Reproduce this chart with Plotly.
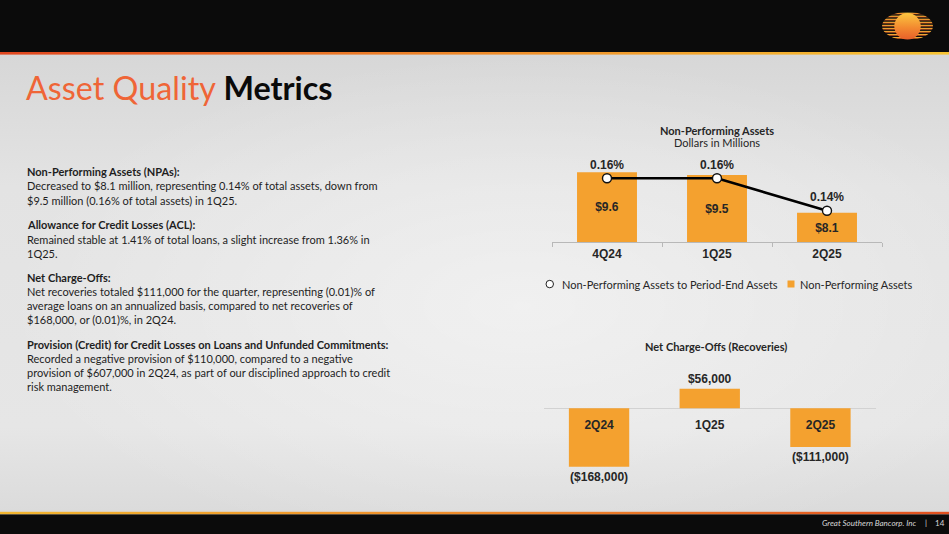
import base64
import plotly.graph_objects as go

W, H = 949, 534

# ---------------- data ----------------
npa_quarters = ["4Q24", "1Q25", "2Q25"]
npa_millions = [9.6, 9.5, 8.1]
npa_ratio_pct = [0.16, 0.16, 0.14]

nco_quarters = ["2Q24", "1Q25", "2Q25"]
nco_dollars = [-168000, 56000, -111000]

body_lines = [
    ("Non-Performing Assets (NPAs):", True, 171.7),
    ("Decreased to $8.1 million, representing 0.14% of total assets, down from", False, 186.0),
    ("$9.5 million (0.16% of total assets) in 1Q25.", False, 200.0),
    ("Allowance for Credit Losses (ACL):", True, 224.3),
    ("Remained stable at 1.41% of total loans, a slight increase from 1.36% in", False, 239.0),
    ("1Q25.", False, 253.3),
    ("Net Charge-Offs:", True, 277.7),
    ("Net recoveries totaled $111,000 for the quarter, representing (0.01)% of", False, 291.7),
    ("average loans on an annualized basis, compared to net recoveries of", False, 305.3),
    ("$168,000, or (0.01)%, in 2Q24.", False, 319.3),
    ("Provision (Credit) for Credit Losses on Loans and Unfunded Commitments:", True, 344.0),
    ("Recorded a negative provision of $110,000, compared to a negative", False, 358.3),
    ("provision of $607,000 in 2Q24, as part of our disciplined approach to credit", False, 372.3),
    ("risk management.", False, 386.7),
]

# value axis of the NPA chart starts above zero (as in the original slide)
NPA_AXIS = [7, 11]

# ---------------- helpers ----------------
def px(x):
    return x / W

def py(y):
    return 1 - y / H

BAR = "#F4A12F"
TXT = "#262626"
LAB_FONT = dict(family="Liberation Sans, Arial, sans-serif", size=12, color=TXT, weight="bold")
UI = "Lato, Open Sans, sans-serif"
UI_SIZE = 11

# ---------------- background (decoration) ----------------
svg = f"""<svg xmlns='http://www.w3.org/2000/svg' width='{W}' height='{H}' viewBox='0 0 {W} {H}'>
<defs>
<linearGradient id='bg' x1='0' y1='0' x2='0' y2='1'>
<stop offset='0' stop-color='#D2D2D2'/><stop offset='0.35' stop-color='#E3E3E3'/>
<stop offset='0.8' stop-color='#E6E6E6'/><stop offset='1' stop-color='#D8D8D8'/></linearGradient>
<radialGradient id='hl' cx='0.55' cy='0.55' r='0.55'>
<stop offset='0' stop-color='#FFFFFF' stop-opacity='0.45'/><stop offset='1' stop-color='#FFFFFF' stop-opacity='0'/></radialGradient>
<linearGradient id='hd' x1='0' y1='0' x2='1' y2='0'>
<stop offset='0' stop-color='#E0461F'/><stop offset='0.5' stop-color='#EE8A2A'/><stop offset='1' stop-color='#F7C433'/></linearGradient>
<linearGradient id='ft' x1='0' y1='0' x2='1' y2='0'>
<stop offset='0' stop-color='#F3B731'/><stop offset='0.5' stop-color='#EE8A2A'/><stop offset='1' stop-color='#E2501F'/></linearGradient>
<linearGradient id='st' x1='0' y1='0' x2='0' y2='1'>
<stop offset='0' stop-color='#F2C63A'/><stop offset='1' stop-color='#E25A22'/></linearGradient>
<linearGradient id='ball' x1='0' y1='0' x2='0' y2='1'>
<stop offset='0' stop-color='#FBC640'/><stop offset='0.55' stop-color='#F38A30'/><stop offset='1' stop-color='#E8602A'/></linearGradient>
<clipPath id='ell'><ellipse cx='907.5' cy='26' rx='25.5' ry='14'/></clipPath>
</defs>
<rect x='0' y='0' width='{W}' height='{H}' fill='url(#bg)'/>
<rect x='0' y='54' width='{W}' height='458' fill='url(#hl)'/>
<rect x='0' y='0' width='{W}' height='52' fill='#0B0B0B'/>
<rect x='0' y='52' width='{W}' height='2.6' fill='url(#hd)'/>
<rect x='0' y='511.8' width='{W}' height='2.6' fill='url(#ft)'/>
<rect x='0' y='514.4' width='{W}' height='{H-514.4}' fill='#0B0B0B'/>
<g clip-path='url(#ell)' fill='url(#st)'>
""" + "".join(
    f"<rect x='880' y='{12.6 + i*3.05:.2f}' width='56' height='1.7'/>" for i in range(9)
) + """</g>
<circle cx='907.5' cy='26.3' r='13.2' fill='url(#ball)'/>
</svg>"""
bg_uri = "data:image/svg+xml;base64," + base64.b64encode(svg.encode()).decode()

fig = go.Figure()

# ---------------- top chart: Non-performing assets ----------------
# bars start at the visible axis floor so that the inside labels sit in the visible part
fig.add_trace(go.Bar(
    x=npa_quarters, y=[v - NPA_AXIS[0] for v in npa_millions], base=NPA_AXIS[0],
    xaxis="x", yaxis="y",
    marker=dict(color=BAR, line=dict(width=0)),
    text=[f"${v:.1f}" for v in npa_millions],
    textposition="inside", insidetextanchor="middle",
    textfont=LAB_FONT, constraintext="none",
    showlegend=False, hoverinfo="skip",
))
fig.add_trace(go.Scatter(
    x=npa_quarters, y=npa_ratio_pct,
    xaxis="x", yaxis="y2",
    mode="lines+markers+text",
    line=dict(color="#000000", width=2.6),
    marker=dict(size=9, color="#FFFFFF", line=dict(color="#111111", width=1.4)),
    text=[f"{v:.2f}%" for v in npa_ratio_pct],
    textposition="top center",
    textfont=LAB_FONT,
    cliponaxis=False, showlegend=False, hoverinfo="skip",
))

# ---------------- bottom chart: Net charge-offs ----------------
fig.add_trace(go.Bar(
    x=nco_quarters, y=nco_dollars,
    xaxis="x2", yaxis="y3",
    marker=dict(color=BAR, line=dict(width=0)),
    text=[(f"${v:,.0f}" if v >= 0 else f"(${-v:,.0f})") for v in nco_dollars],
    textposition="outside", textfont=LAB_FONT, constraintext="none",
    cliponaxis=False, showlegend=False, hoverinfo="skip",
))

zero_paper = py(408.3)

fig.update_layout(
    width=W, height=H,
    margin=dict(l=0, r=0, t=0, b=0),
    paper_bgcolor="#E2E2E2", plot_bgcolor="rgba(0,0,0,0)",
    bargap=0.455,
    images=[dict(source=bg_uri, xref="paper", yref="paper", x=0, y=1, sizex=1, sizey=1,
                 xanchor="left", yanchor="top", sizing="stretch", layer="below")],
    xaxis=dict(domain=[px(552), px(882)], anchor="y", type="category",
               showline=True, linecolor="#B8B8B8", linewidth=1,
               ticks="outside", tickson="boundaries", ticklen=4, tickcolor="#B8B8B8",
               showgrid=False, zeroline=False,
               tickfont=LAB_FONT),
    yaxis=dict(domain=[py(242.3), py(134.7)], range=NPA_AXIS, visible=False),
    yaxis2=dict(overlaying="y", range=[0.1205, 0.1869], visible=False),
    xaxis2=dict(domain=[px(543.7), px(875.8)], anchor="free", position=zero_paper,
                type="category", showline=False, showgrid=False, zeroline=False,
                ticks="outside", ticklen=5, tickcolor="rgba(0,0,0,0)",
                tickfont=LAB_FONT),
    yaxis3=dict(domain=[py(477.9), py(377.0)], range=[-200000, 90000], anchor="x2",
                showgrid=False, showticklabels=False, zeroline=True,
                zerolinecolor="#D2D2D2", zerolinewidth=1),
)


def note(x, y, text, size=UI_SIZE, xanchor="center", color=TXT, family=UI):
    return dict(x=px(x), y=py(y), xref="paper", yref="paper", xanchor=xanchor, yanchor="middle",
                showarrow=False, text=text, font=dict(family=family, size=size, color=color))


ann = []
# title
ann.append(note(24, 87.5, "<span style='color:#EF6537'>Asset Quality</span> <b>Metrics</b>",
                size=32.3, xanchor="left", color="#0A0A0A"))
# body text
for txt, bold, yy in body_lines:
    ann.append(note(24.5, yy, f"<b>{txt}</b>" if bold else txt, xanchor="left", color="#1E1E1E"))
# chart titles
ann.append(note(717, 130, "<b>Non-Performing Assets</b>"))
ann.append(note(717, 142.5, "Dollars in Millions"))
ann.append(note(716, 346.7, "<b>Net Charge-Offs (Recoveries)</b>"))
# legend texts
ann.append(note(560, 284, "Non-Performing Assets to Period-End Assets", xanchor="left"))
ann.append(note(797.5, 284, "Non-Performing Assets", xanchor="left"))
# footer
ann.append(note(919, 523, "<i>Great Southern Bancorp. Inc</i>", size=8, xanchor="right", color="#D8D8D8"))
ann.append(note(925.5, 523, "|", size=8, color="#D8D8D8"))
ann.append(note(932.5, 523, "14", size=8, xanchor="left", color="#D8D8D8"))

shapes = [
    dict(type="circle", xref="paper", yref="paper", x0=px(546), x1=px(553.5), y0=py(287.8), y1=py(280.3),
         fillcolor="#FFFFFF", line=dict(color="#222222", width=1)),
    dict(type="rect", xref="paper", yref="paper", x0=px(787.5), x1=px(794.5), y0=py(287.5), y1=py(280.5),
         fillcolor=BAR, line=dict(width=0)),
]

fig.update_layout(annotations=ann, shapes=shapes)
fig.write_html("out.html", config={"displayModeBar": False},
               post_script="document.body.style.margin='0';document.body.style.overflow='hidden';")
